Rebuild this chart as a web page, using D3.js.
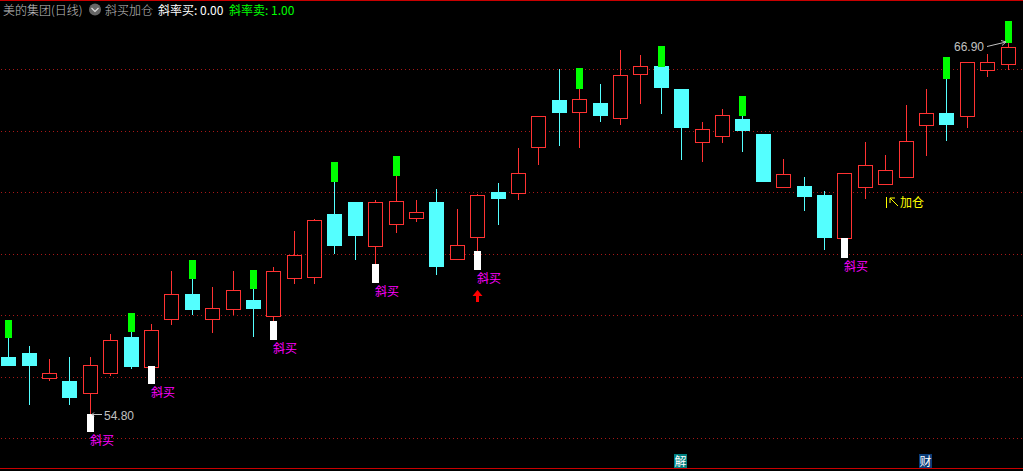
<!DOCTYPE html>
<html><head><meta charset="utf-8">
<script src="https://cdn.jsdelivr.net/npm/d3@7/dist/d3.min.js"></script>
<style>html,body{margin:0;padding:0;background:#000;overflow:hidden}svg{display:block}
text{font-family:"Noto Sans CJK SC","Liberation Sans",sans-serif;font-size:12px;font-weight:400}</style>
</head><body><svg id="c" width="1023" height="471"></svg>
<script>
const opens=[56.63,56.75,55.95,55.86,55.47,56.11,57.27,56.31,57.84,58.64,57.84,58.16,58.45,57.94,59.15,59.19,61.20,61.59,60.18,60.88,61.07,61.59,59.76,60.47,61.91,61.87,63.35,64.85,64.47,64.75,64.27,65.68,65.94,65.20,63.51,63.70,64.24,63.76,62.07,62.10,61.81,60.43,62.07,62.16,62.39,64.05,64.43,64.34,65.81,66.00];
const closes=[56.37,56.37,56.10,55.35,56.37,57.17,56.34,57.49,58.64,58.16,58.19,58.77,58.19,59.38,59.89,61.01,60.21,60.53,61.59,61.62,61.27,59.54,60.21,61.81,61.71,62.51,64.34,64.47,64.88,64.37,65.65,65.94,65.27,63.99,63.92,64.37,63.89,62.26,62.48,61.78,60.47,62.51,62.77,62.61,63.54,64.43,64.08,66.07,66.07,66.55];
const highs=[57.30,56.98,56.56,56.63,56.63,57.36,57.49,57.68,59.38,59.25,58.87,59.38,58.93,59.51,60.66,61.04,62.35,61.59,61.65,62.55,61.65,62.00,61.36,61.84,62.19,63.31,64.34,65.84,65.33,65.36,66.45,66.29,66.13,65.20,64.15,64.56,64.53,63.76,62.96,62.39,61.94,62.51,63.51,63.09,64.69,65.20,65.81,66.07,66.32,66.90];
const lows=[56.37,55.09,55.86,55.09,54.80,56.02,56.24,56.31,57.65,57.97,57.39,57.97,57.27,57.78,58.96,58.96,59.92,59.73,59.60,60.59,60.95,59.25,59.76,60.02,60.85,61.65,62.77,63.38,63.31,64.15,64.05,64.72,64.40,62.93,62.87,63.47,63.19,62.23,62.07,61.30,60.05,60.43,61.68,62.16,62.39,63.06,63.54,63.95,65.59,65.81];
const sellIdx=[0,6,9,12,16,19,28,32,36,46,49];
const sellTop=[57.81,58.03,59.73,59.41,62.87,63.06,65.87,66.58,64.98,66.23,67.38];
const sellBottom=[57.23,57.43,59.12,58.80,62.23,62.42,65.20,65.91,64.34,65.52,66.67];
const buyIdx=[4,7,13,18,23,41];
const buyTop=[54.80,56.34,57.78,59.60,60.02,60.43];
const buyBottom=[54.23,55.76,57.17,58.99,59.41,59.79];
const gridPrices=[65.84,63.86,61.91,59.92,57.97,55.99,54.03];
const titleParts=[["美的集团(日线)",3,"#c0c0c0",300],["斜买加仓",105,"#c0c0c0",300],["斜率买: 0.00",158,"#ffffff",400],["斜率卖: 1.00",229,"#00ff00",400]];
const buyLabel="斜买", addLabel="加仓", lowLabel="54.80", highLabel="66.90";
const events=[["解",33,"#008080"],["财",45,"#0a3c78"]];

const RED="#ff3232",CYAN="#54ffff";
const svg=d3.select("#c");
const x=d3.scaleLinear().domain([0,49]).range([8.66,1008.015]);
const y=d3.scaleLinear().domain([68.05,53.33]).range([0,460]);
const X=i=>Math.floor(x(i)), Y=v=>Math.round(y(v));

svg.append("rect").attr("width",1023).attr("height",471).attr("fill","#000");
svg.selectAll("line.g").data(gridPrices).join("line").attr("class","g")
 .attr("x1",1).attr("x2",1023).attr("y1",d=>Y(d)+.5).attr("y2",d=>Y(d)+.5)
 .attr("stroke","#a81818").attr("stroke-dasharray","1 3");
svg.append("rect").attr("x",0).attr("y",0).attr("width",1023).attr("height",1).attr("fill","#c80000");
svg.append("rect").attr("x",0).attr("y",468).attr("width",1023).attr("height",1).attr("fill","#c80000");

const idx=d3.range(opens.length);
const g=svg.append("g").attr("shape-rendering","crispEdges");
g.selectAll("rect.w").data(idx).join("rect").attr("class","w")
 .attr("x",i=>X(i)).attr("width",1)
 .attr("y",i=>Y(highs[i])).attr("height",i=>Math.max(1,Y(lows[i])-Y(highs[i])))
 .attr("fill",i=>closes[i]>opens[i]?RED:CYAN);
g.selectAll("rect.b").data(idx).join("rect").attr("class","b")
 .each(function(i){
  const t=Y(Math.max(opens[i],closes[i])),b=Y(Math.min(opens[i],closes[i]));
  const s=d3.select(this);
  if(closes[i]>opens[i]) s.attr("x",X(i)-6.5).attr("width",14).attr("y",t+.5).attr("height",b-t).attr("fill","#000").attr("stroke",RED);
  else s.attr("x",X(i)-7).attr("width",15).attr("y",t).attr("height",b-t+1).attr("fill",CYAN);
 });
const sticks=(I,T,B,c)=>g.selectAll(null).data(I).join("rect")
 .attr("x",i=>X(i)-3).attr("width",7)
 .attr("y",(i,k)=>Y(T[k])).attr("height",(i,k)=>Y(B[k])-Y(T[k])).attr("fill",c);
sticks(sellIdx,sellTop,sellBottom,"#00ff00");
sticks(buyIdx,buyTop,buyBottom,"#ffffff");

svg.selectAll("text.buy").data(buyIdx).join("text").attr("class","buy")
 .attr("x",i=>X(i)).attr("y",(i,k)=>Y(buyBottom[k])+13).attr("fill","#ff00ff").text(buyLabel);

svg.selectAll("text.t").data(titleParts).join("text").attr("class","t")
 .attr("x",d=>d[1]).attr("y",14.5).attr("fill",d=>d[2]).style("font-weight",d=>d[3]).text(d=>d[0]);
svg.append("circle").attr("cx",95).attr("cy",9.5).attr("r",6).attr("fill","#666");
svg.append("path").attr("d","M91.5 8 L95 11.5 L98.5 8").attr("fill","none").attr("stroke","#ddd").attr("stroke-width",1.2);

svg.append("text").attr("x",104).attr("y",Y(54.80)+6).attr("fill","#c0c0c0").style("font-family","Liberation Sans").text(lowLabel);
svg.append("path").attr("d",`M92 ${Y(54.80)+.5} H102 M92 ${Y(54.80)+.5} l2 -2 M92 ${Y(54.80)+.5} l2 2`).attr("stroke","#c0c0c0").attr("fill","none");
svg.append("text").attr("x",954).attr("y",Y(66.90)+15).attr("fill","#c0c0c0").style("font-family","Liberation Sans").text(highLabel);
svg.append("path").attr("d","M987 46.5 L1006 42 M1001 40.5 L1006 42 L1002 45.5").attr("stroke","#c0c0c0").attr("fill","none");

const ax=X(43);
svg.append("rect").attr("x",ax+1).attr("y",197).attr("width",1).attr("height",11).attr("fill","#ffff00");
svg.append("path").attr("d",`M${ax+13} 206 L${ax+5} 198 M${ax+5} 198 h5 M${ax+5} 198 v5`).attr("stroke","#ffff00").attr("fill","none");
svg.append("text").attr("x",ax+15).attr("y",207).attr("fill","#ffff00").text(addLabel);

const ux=X(23)+.5;
svg.append("path").attr("d",`M${ux} 290 l5 6 h-3.5 v6 h-3 v-6 h-3.5 z`).attr("fill","#ff0000");

const tags=svg.selectAll("g.e").data(events).join("g").attr("class","e").attr("transform",d=>`translate(${X(d[1])-7},454)`);
tags.append("rect").attr("width",13).attr("height",14).attr("fill",d=>d[2]);
tags.append("text").attr("x",.5).attr("y",11.5).attr("fill","#fff").text(d=>d[0]);
</script></body></html>
